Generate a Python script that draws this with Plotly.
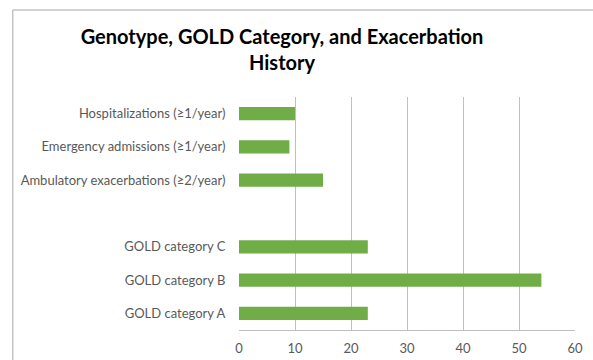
import plotly.graph_objects as go

categories = ["GOLD category A", "GOLD category B", "GOLD category C", " ",
              "Ambulatory exacerbations (≥2/year)", "Emergency admissions (≥1/year)",
              "Hospitalizations (≥1/year)"]
values = [23, 54, 23, None, 15, 9, 10]
x_ticks = [0, 10, 20, 30, 40, 50, 60]

W, H = 593, 360
L, R, T, B = 238.5, 18, 97, 30
pw, ph = W - L - R, H - T - B

fig = go.Figure(go.Bar(
    y=categories, x=values, orientation="h",
    marker=dict(color="#70AD47", line=dict(width=0)),
    width=0.4,
))

font = "Lato, 'Open Sans', sans-serif"
fig.update_layout(
    width=W, height=H,
    margin=dict(l=L, r=R, t=T, b=B, pad=0, autoexpand=False),
    paper_bgcolor="white", plot_bgcolor="white",
    showlegend=False,
    title=dict(text="<b>Genotype, GOLD Category, and Exacerbation<br>History</b>",
               x=282 / W, xanchor="center", xref="container",
               y=1 - 44 / H, yanchor="top", yref="container",
               font=dict(family=font, size=20, color="#000000")),
    font=dict(family=font, size=13, color="#595959"),
)
fig.update_xaxes(
    range=[0, 60], tickvals=x_ticks, ticktext=[str(v) for v in x_ticks],
    showgrid=True, gridcolor="#BFBFBF", gridwidth=1,
    zeroline=False, showline=True, linecolor="#BFBFBF", linewidth=1,
    ticks="outside", ticklen=6, tickcolor="rgba(0,0,0,0)", automargin=False,
    tickfont=dict(family=font, size=13, color="#595959"), fixedrange=True,
)
fig.update_yaxes(
    categoryorder="array", categoryarray=categories,
    showgrid=False, zeroline=False, showline=False,
    ticks="outside", ticklen=10, tickcolor="rgba(0,0,0,0)", automargin=False,
    tickfont=dict(family=font, size=13, color="#595959"), fixedrange=True,
)

# chart frame
fig.add_shape(type="rect", xref="paper", yref="paper",
              x0=(12 - L) / pw, x1=(W + 10 - L) / pw,
              y0=(H - B - (H + 10)) / ph, y1=(H - B - 10) / ph,
              line=dict(color="#A6A6A6", width=1), fillcolor="rgba(0,0,0,0)", layer="below")

fig.write_html("out.html")
